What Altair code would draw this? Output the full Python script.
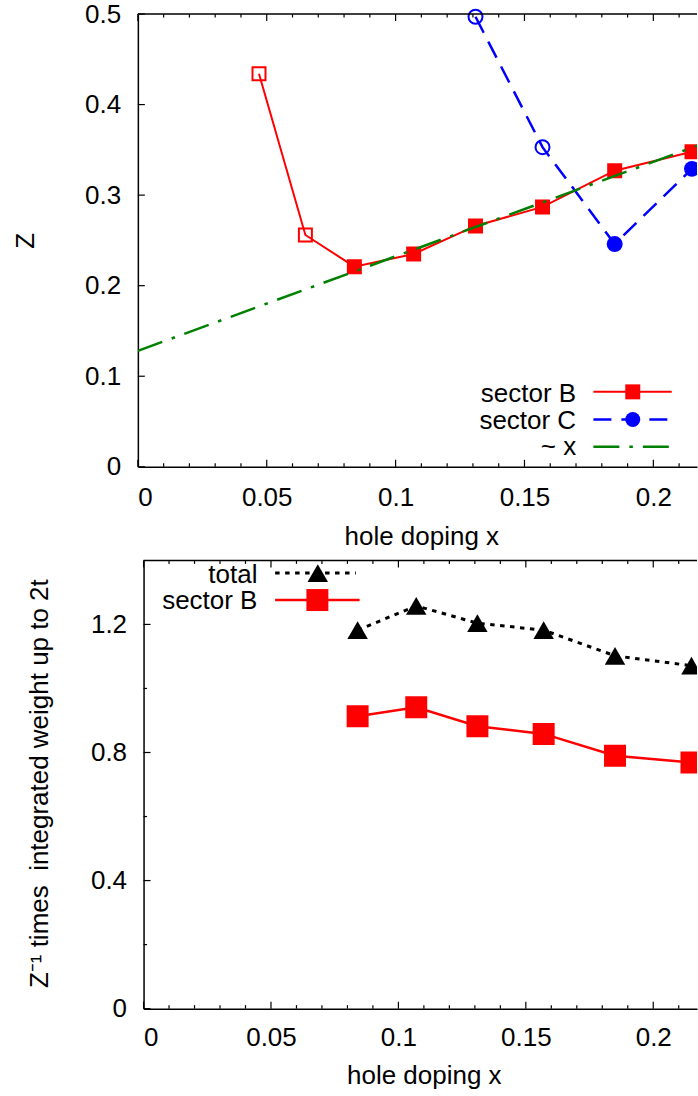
import altair as alt
import pandas as pd

# ---------------- data ----------------
# quasiparticle weight Z, sector B (first two dopings drawn with open symbols)
doping_B = [0.047, 0.065, 0.084, 0.107, 0.131, 0.157, 0.185, 0.215]
z_B = [0.434, 0.256, 0.221, 0.235, 0.266, 0.287, 0.327, 0.348]
filled_B = [False, False, True, True, True, True, True, True]

# quasiparticle weight Z, sector C
doping_C = [0.131, 0.157, 0.185, 0.215]
z_C = [0.497, 0.353, 0.246, 0.329]
filled_C = [False, False, True, True]

# linear guide ~ x
fit_x = [0.0, 0.25]
fit_z = [0.128, 0.389]

# Z^-1 times integrated weight up to 2t
doping_w = [0.084, 0.107, 0.131, 0.157, 0.185, 0.215]
w_total = [1.182, 1.258, 1.204, 1.182, 1.102, 1.071]
w_B = [0.913, 0.941, 0.882, 0.858, 0.790, 0.769]

# tick positions
x_labels = [0.0, 0.05, 0.1, 0.15, 0.2]
x_minor = [0.01, 0.02, 0.03, 0.04, 0.06, 0.07, 0.08, 0.09, 0.11, 0.12,
           0.13, 0.14, 0.16, 0.17, 0.18, 0.19, 0.21]
z_ticks = [0.0, 0.1, 0.2, 0.3, 0.4, 0.5]
w_labels = [0.0, 0.4, 0.8, 1.2]
w_minor = [0.2, 0.6, 1.0]

# ---------------- style / layout ----------------
FONT = "Liberation Sans"
FS = 26
RED, BLUE, GREEN, BLACK = "#ff0000", "#0000ff", "#008000", "#000000"
AXW = 1.5      # frame line width
TW = 1.2       # tick line width
TMAJ, TMIN = 7, 3.5

W = 559.7                 # plot width (both panels share the left origin)
H_TOP, H_BOT = 453.2, 448.7
SHIFT_BOT = 5.7           # lower panel frame starts a little further right
XMAX_TOP = W / 2580.0
XMAX_BOT = (W - SHIFT_BOT) / 2551.0

xs_top = alt.Scale(domain=[0, XMAX_TOP], nice=False, zero=False)
ys_top = alt.Scale(domain=[0, 0.5], nice=False)
xs_bot = alt.Scale(domain=[0, XMAX_BOT], range=[SHIFT_BOT, W], nice=False, zero=False)
ys_bot = alt.Scale(domain=[0, 1.4], nice=False)

x_axis_top = alt.Axis(values=x_labels, format=".2~f", title="hole doping x",
                      labelPadding=18, titleX=283.7, titleY=78.3,
                      titleAlign="center", titleBaseline="alphabetic")
y_axis_top = alt.Axis(values=z_ticks, format=".1~f", title="Z",
                      labelPadding=17.3, titleX=-112.3, titleY=H_TOP / 2,
                      titleAngle=270, titleAlign="center", titleBaseline="middle")
x_axis_bot = alt.Axis(values=x_labels, format=".2~f", title="hole doping x",
                      labelPadding=16, titleX=286.2, titleY=75,
                      titleAlign="center", titleBaseline="alphabetic")
y_axis_bot = alt.Axis(values=w_labels, format=".1~f",
                      title="Z\u207b\u00b9 times\u00a0\u00a0integrated weight up to 2t",
                      offset=-SHIFT_BOT, labelPadding=17,
                      titleX=-104, titleY=223,
                      titleAngle=270, titleAlign="center", titleBaseline="middle")

TOP = dict(xs=xs_top, ys=ys_top, xa=x_axis_top, ya=y_axis_top)
BOT = dict(xs=xs_bot, ys=ys_bot, xa=x_axis_bot, ya=y_axis_bot)


def X(field, p):
    return alt.X(field, scale=p["xs"], axis=p["xa"])


def Y(field, p):
    return alt.Y(field, scale=p["ys"], axis=p["ya"])


def frame_and_ticks(p, x_left, height, y_major, y_minor):
    parts = []
    for vals, ln in ((x_labels, TMAJ), (x_minor, TMIN)):
        base = alt.Chart(pd.DataFrame({"v": vals}))
        parts.append(base.mark_rule(color=BLACK, strokeWidth=TW).encode(
            x=X("v:Q", p), y=alt.value(height), y2=alt.value(height - ln)))
        parts.append(base.mark_rule(color=BLACK, strokeWidth=TW).encode(
            x=X("v:Q", p), y=alt.value(0), y2=alt.value(ln)))
    for vals, ln in ((y_major, TMAJ), (y_minor, TMIN)):
        if not vals:
            continue
        parts.append(alt.Chart(pd.DataFrame({"v": vals})).mark_rule(
            color=BLACK, strokeWidth=TW).encode(
            y=Y("v:Q", p), x=alt.value(x_left), x2=alt.value(x_left + ln)))
    parts.append(alt.Chart(pd.DataFrame({"v": [0]})).mark_rule(
        color=BLACK, strokeWidth=AXW).encode(
        x=alt.value(x_left), x2=alt.value(W), y=alt.value(0)))
    return parts


def legend_text(label, x, y):
    return alt.Chart(pd.DataFrame({"t": [label]})).mark_text(
        align="right", baseline="middle", font=FONT, fontSize=FS, color=BLACK
    ).encode(x=alt.value(x), y=alt.value(y), text="t:N")


def legend_line(x1, x2, y, color, width, dash=None):
    kw = dict(color=color, strokeWidth=width)
    if dash:
        kw["strokeDash"] = dash
    return alt.Chart(pd.DataFrame({"v": [0]})).mark_rule(**kw).encode(
        x=alt.value(x1), x2=alt.value(x2), y=alt.value(y))


def legend_symbol(x, y, shape, size, color):
    return alt.Chart(pd.DataFrame({"v": [0]})).mark_point(
        shape=shape, filled=True, size=size, color=color, opacity=1
    ).encode(x=alt.value(x), y=alt.value(y))


# ---------------- upper panel: Z ----------------
dfB = pd.DataFrame({"x": doping_B, "z": z_B, "filled": filled_B})
dfC = pd.DataFrame({"x": doping_C, "z": z_C, "filled": filled_C})
dfFit = pd.DataFrame({"x": fit_x, "z": fit_z})

lineB = alt.Chart(dfB).mark_line(color=RED, strokeWidth=2, clip=True).encode(
    x=X("x:Q", TOP), y=Y("z:Q", TOP))
openB = alt.Chart(dfB[~dfB["filled"]]).mark_point(
    shape="square", filled=False, size=169, stroke=RED, strokeWidth=2, opacity=1
).encode(x=X("x:Q", TOP), y=Y("z:Q", TOP))
fullB = alt.Chart(dfB[dfB["filled"]]).mark_point(
    shape="square", filled=True, size=225, color=RED, opacity=1, clip=True
).encode(x=X("x:Q", TOP), y=Y("z:Q", TOP))

lineC = alt.Chart(dfC).mark_line(color=BLUE, strokeWidth=2.5, strokeDash=[18, 10], clip=True).encode(
    x=X("x:Q", TOP), y=Y("z:Q", TOP))
openC = alt.Chart(dfC[~dfC["filled"]]).mark_point(
    shape="circle", filled=False, size=196, stroke=BLUE, strokeWidth=2, opacity=1
).encode(x=X("x:Q", TOP), y=Y("z:Q", TOP))
fullC = alt.Chart(dfC[dfC["filled"]]).mark_point(
    shape="circle", filled=True, size=256, color=BLUE, opacity=1, clip=True
).encode(x=X("x:Q", TOP), y=Y("z:Q", TOP))

lineFit = alt.Chart(dfFit).mark_line(color=GREEN, strokeWidth=2.5,
                                      strokeDash=[26, 10, 3.5, 10], clip=True).encode(
    x=X("x:Q", TOP), y=Y("z:Q", TOP))

top_legend = [
    legend_text("sector B", 438.7, 380.4),
    legend_line(456, 534.4, 378.2, RED, 2),
    legend_symbol(495.4, 378.2, "square", 225, RED),
    legend_text("sector C", 438.7, 407),
    legend_line(456, 534.4, 405.8, BLUE, 2.5, [18, 10]),
    legend_symbol(495.4, 405.8, "circle", 225, BLUE),
    legend_text("~ x", 438.7, 433.7),
    legend_line(456, 534.4, 433.2, GREEN, 2.5, [26, 10, 3.5, 10]),
]

top = alt.layer(
    lineB, openB, fullB, lineC, openC, fullC, lineFit,
    *frame_and_ticks(TOP, 0, H_TOP, z_ticks, []),
    *top_legend,
).properties(width=W, height=H_TOP)

# ---------------- lower panel: integrated weight ----------------
dfW = pd.DataFrame({"x": doping_w, "total": w_total, "B": w_B})

lineTot = alt.Chart(dfW).mark_line(color=BLACK, strokeWidth=3, strokeDash=[4.5, 5.5], clip=True).encode(
    x=X("x:Q", BOT), y=Y("total:Q", BOT))
ptsTot = alt.Chart(dfW).mark_point(
    shape="triangle-up", filled=True, size=420, color=BLACK, opacity=1, clip=True
).encode(x=X("x:Q", BOT), y=Y("total:Q", BOT))
lineWB = alt.Chart(dfW).mark_line(color=RED, strokeWidth=2.5, clip=True).encode(
    x=X("x:Q", BOT), y=Y("B:Q", BOT))
ptsWB = alt.Chart(dfW).mark_point(
    shape="square", filled=True, size=484, color=RED, opacity=1, clip=True
).encode(x=X("x:Q", BOT), y=Y("B:Q", BOT))

bot_legend = [
    legend_text("total", 119.7, 14.3),
    legend_line(137.4, 218.2, 12.7, BLACK, 3, [4.5, 5.5]),
    legend_symbol(180.1, 12.7, "triangle-up", 420, BLACK),
    legend_text("sector B", 119.7, 40.9),
    legend_line(137.4, 222, 39.7, RED, 2.5),
    legend_symbol(179.7, 39.7, "square", 484, RED),
]

bottom = alt.layer(
    lineTot, ptsTot, lineWB, ptsWB,
    *frame_and_ticks(BOT, SHIFT_BOT, H_BOT, w_labels, w_minor),
    *bot_legend,
).properties(width=W, height=H_BOT)

chart = alt.vconcat(top, bottom, spacing=92.9, bounds="flush").properties(
    padding={"left": 12, "top": 0.5, "right": 0, "bottom": 0}
).configure_view(strokeWidth=0).configure_axis(
    labelFont=FONT, labelFontSize=FS, labelColor=BLACK,
    titleFont=FONT, titleFontSize=FS, titleFontWeight="normal", titleColor=BLACK,
    domainColor=BLACK, domainWidth=AXW, ticks=False, tickSize=0, grid=False,
)

chart.save("out.html", embed_options={"renderer": "svg", "actions": False})
